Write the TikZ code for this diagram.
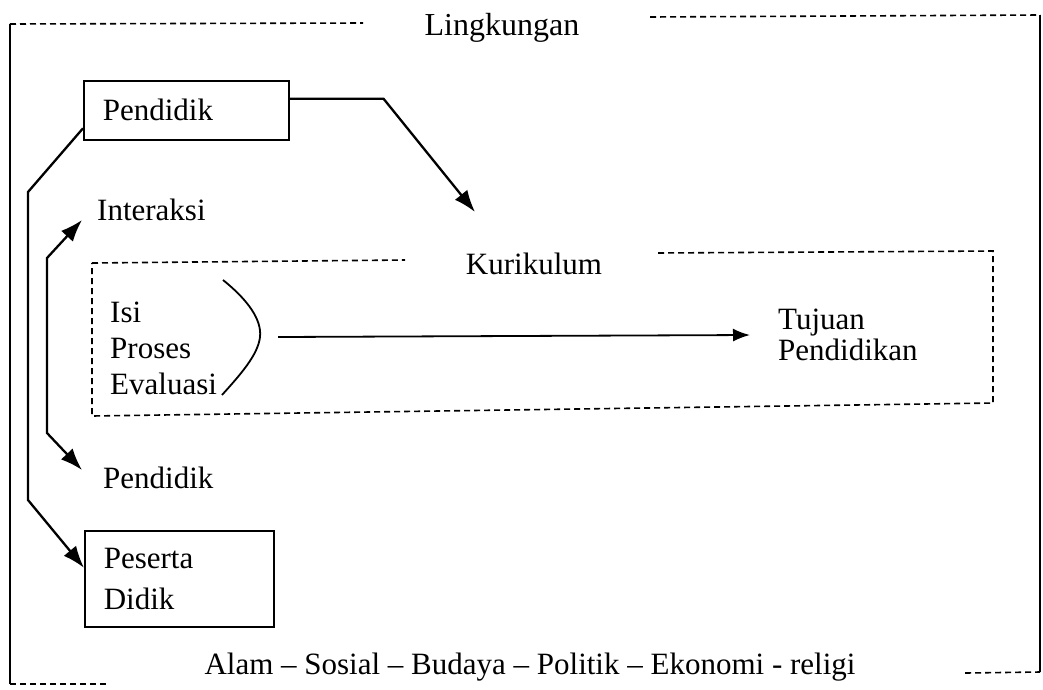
\documentclass[tikz,border=0pt]{standalone}
\usepackage{fontspec}
\setmainfont{Liberation Serif}
\usetikzlibrary{arrows.meta,calc}

\begin{document}
\begin{tikzpicture}[x=1pt,y=-1pt,
    font=\fontsize{31}{36}\selectfont,
    box/.style={draw,line width=1.6pt,align=left,inner xsep=19pt,inner ysep=0pt},
    txt/.style={inner sep=0pt,align=left},
    conn/.style={line width=2.3pt,-{Latex[length=22pt,width=16pt]}},
    dashline/.style={line width=1.6pt,dash pattern=on 6pt off 4pt}]
  \useasboundingbox (0,0) rectangle (1043,689);

  \draw [dashline] (10,24) -- (363,23);
  \draw [dashline] (650,17) -- (1040,15);
  \draw [line width=1.6pt] (10,24) -- (10,684);
  \draw [line width=1.6pt] (1040,15) -- (1040,672);
  \draw [dashline] (10,684) -- (108,684);
  \draw [dashline] (965,673) -- (1040,672);
  \node [txt,font=\fontsize{32}{36}\selectfont] (lingkungan) at (502,28) {Lingkungan};
  \node [txt] (alam) at (530,667) {Alam -- Sosial -- Budaya -- Politik -- Ekonomi - religi};

  \draw [dashline] (92,263) -- (405,260);
  \draw [dashline] (658,253) -- (993,251) -- (993,403) -- (92,416) -- (92,263);
  \node [txt] (kurikulum) at (534,264) {Kurikulum};
  \node [txt,anchor=west] (isi) at (110,348) {Isi\\Proses\\Evaluasi};
  \node [txt,anchor=west,font=\fontsize{31}{31}\selectfont] (tujuan) at (778,335) {Tujuan\\Pendidikan};
  \coordinate (kurung) at (260,337);
  \draw [line width=1.8pt] (223,280) .. controls (248,300) and (262,320) .. (kurung)
    .. controls (258,355) and (240,375) .. (222,395);
  \draw [line width=1.8pt,-{Latex[length=17pt,width=13pt]}] ([xshift=18pt]kurung) -- ([xshift=-28pt]tujuan.west);

  \node [box,anchor=north west,text width=167pt,minimum height=59pt] (pendidik) at (83,80) {Pendidik};
  \node [box,anchor=north west,text width=151pt,minimum height=96pt,font=\fontsize{31}{41}\selectfont] (peserta) at (84,530) {Peserta\\Didik};
  \node [txt,anchor=west] (interaksi) at (97,210) {Interaksi};
  \node [txt,anchor=west] (pendidikb) at (103,478) {Pendidik};
  \coordinate (kurtip) at (475,212);

  \draw [conn] ([yshift=11.5pt]pendidik.east) -- ++(94,0) -- (kurtip);
  \draw [conn] ([yshift=-18pt]pendidik.west) -- (28,192) -- (28,500) -- ([yshift=11pt]peserta.west);
  \draw [conn,{Latex[length=22pt,width=16pt]}-{Latex[length=22pt,width=16pt]}] ([xshift=-15pt,yshift=-10pt]interaksi.west) -- (47,258) -- (47,433) -- ([xshift=-21pt,yshift=8pt]pendidikb.west);
\end{tikzpicture}
\end{document}
